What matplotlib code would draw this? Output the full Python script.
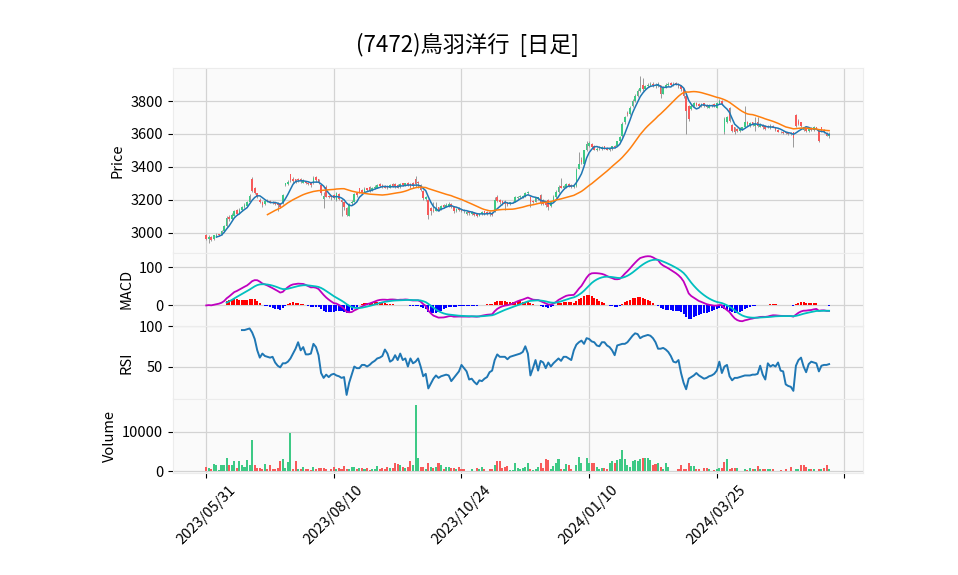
import numpy as np
import pandas as pd
import matplotlib
matplotlib.use("Agg")
import matplotlib.pyplot as plt

plt.rcParams['font.family'] = ['Noto Sans CJK JP', 'DejaVu Sans']

TITLE = "(7472)鳥羽洋行  [日足]"

# daily prices, 2023/05/31 .. 2024/05
opens = [
    2990, 2965, 2975, 2965, 2980, 2992, 2995, 3010, 3040, 3095,
    3085, 3105, 3140, 3120, 3140, 3155, 3165, 3190, 3330, 3270,
    3240, 3200, 3190, 3175, 3200, 3195, 3190, 3185, 3180, 3175,
    3180, 3290, 3295, 3355, 3330, 3325, 3330, 3330, 3305, 3310,
    3305, 3300, 3300, 3340, 3325, 3290, 3205, 3280, 3225, 3225,
    3230, 3200, 3235, 3200, 3185, 3150, 3105, 3180, 3190, 3240,
    3270, 3260, 3250, 3270, 3280, 3260, 3270, 3275, 3295, 3290,
    3285, 3285, 3275, 3295, 3295, 3290, 3280, 3300, 3290, 3305,
    3295, 3300, 3330, 3310, 3290, 3255, 3205, 3200, 3150, 3140,
    3135, 3155, 3145, 3170, 3160, 3165, 3175, 3160, 3130, 3150,
    3145, 3140, 3115, 3125, 3115, 3120, 3115, 3105, 3115, 3130,
    3125, 3125, 3115, 3130, 3215, 3200, 3195, 3190, 3185, 3175,
    3185, 3190, 3210, 3215, 3220, 3220, 3240, 3220, 3195, 3190,
    3205, 3230, 3200, 3190, 3200, 3165, 3190, 3215, 3250, 3285,
    3275, 3280, 3295, 3290, 3280, 3285, 3390, 3445, 3420, 3500,
    3525, 3540, 3530, 3500, 3520, 3510, 3525, 3515, 3500, 3510,
    3530, 3530, 3555, 3585, 3670, 3730, 3720, 3770, 3800, 3830,
    3860, 3900, 3875, 3890, 3895, 3905, 3900, 3890, 3895, 3845,
    3885, 3895, 3910, 3895, 3910, 3905, 3890, 3870, 3830, 3770,
    3750, 3770, 3790, 3780, 3770, 3785, 3775, 3760, 3770, 3780,
    3760, 3785, 3800, 3610, 3670, 3760, 3655, 3640, 3630, 3620,
    3630, 3640, 3675, 3650, 3670, 3650, 3675, 3645, 3655, 3650,
    3650, 3635, 3650, 3640, 3625, 3615, 3612, 3610, 3605, 3604,
    3610, 3715, 3680, 3670, 3625, 3635, 3620, 3635, 3625, 3640,
    3620, 3640, 3625, 3605, 3585,
]
highs = [
    2995, 2985, 2980, 2990, 3000, 2995, 3020, 3050, 3100, 3110,
    3120, 3140, 3145, 3150, 3165, 3180, 3195, 3235, 3340, 3280,
    3245, 3210, 3195, 3200, 3205, 3200, 3195, 3190, 3185, 3180,
    3235, 3305, 3320, 3360, 3340, 3330, 3335, 3335, 3325, 3315,
    3310, 3305, 3345, 3345, 3330, 3295, 3250, 3290, 3230, 3230,
    3235, 3250, 3240, 3205, 3190, 3160, 3180, 3200, 3240, 3245,
    3275, 3265, 3280, 3275, 3285, 3280, 3290, 3295, 3300, 3295,
    3290, 3290, 3295, 3300, 3300, 3295, 3300, 3305, 3305, 3310,
    3300, 3310, 3345, 3315, 3295, 3260, 3225, 3205, 3160, 3190,
    3190, 3160, 3170, 3175, 3180, 3185, 3180, 3165, 3150, 3155,
    3150, 3145, 3130, 3130, 3130, 3125, 3120, 3120, 3130, 3135,
    3130, 3130, 3125, 3215, 3230, 3205, 3200, 3200, 3190, 3190,
    3195, 3225, 3225, 3230, 3230, 3250, 3255, 3225, 3200, 3215,
    3220, 3235, 3205, 3195, 3205, 3195, 3230, 3260, 3290, 3335,
    3290, 3300, 3300, 3295, 3290, 3395, 3490, 3460, 3505, 3555,
    3555, 3545, 3535, 3520, 3525, 3525, 3530, 3520, 3515, 3530,
    3535, 3560, 3590, 3670, 3710, 3740, 3770, 3810, 3840, 3870,
    3950, 3940, 3900, 3910, 3915, 3915, 3910, 3915, 3900, 3890,
    3910, 3915, 3915, 3915, 3915, 3910, 3895, 3880, 3840, 3775,
    3780, 3795, 3795, 3785, 3790, 3790, 3780, 3780, 3780, 3790,
    3795, 3810, 3805, 3700, 3710, 3765, 3660, 3645, 3635, 3640,
    3645, 3770, 3680, 3670, 3675, 3700, 3700, 3665, 3660, 3655,
    3655, 3660, 3655, 3645, 3630, 3620, 3618, 3615, 3610, 3610,
    3615, 3720, 3690, 3675, 3645, 3640, 3635, 3640, 3650, 3645,
    3625, 3645, 3630, 3610, 3610,
]
lows = [
    2955, 2940, 2950, 2960, 2975, 2980, 2990, 3005, 3035, 3075,
    3080, 3100, 3110, 3115, 3135, 3150, 3160, 3185, 3250, 3235,
    3210, 3180, 3160, 3170, 3185, 3180, 3175, 3170, 3130, 3150,
    3175, 3285, 3290, 3310, 3305, 3300, 3310, 3305, 3300, 3295,
    3290, 3280, 3295, 3310, 3295, 3230, 3150, 3215, 3210, 3200,
    3205, 3195, 3200, 3100, 3140, 3100, 3100, 3170, 3185, 3220,
    3245, 3240, 3245, 3255, 3250, 3255, 3265, 3270, 3280, 3275,
    3270, 3265, 3270, 3280, 3275, 3270, 3275, 3285, 3285, 3285,
    3275, 3275, 3280, 3270, 3255, 3200, 3195, 3085, 3110, 3125,
    3130, 3130, 3140, 3150, 3155, 3160, 3150, 3120, 3125, 3130,
    3125, 3120, 3110, 3110, 3110, 3100, 3095, 3100, 3110, 3110,
    3110, 3105, 3100, 3125, 3185, 3175, 3170, 3140, 3165, 3170,
    3180, 3185, 3205, 3210, 3210, 3215, 3235, 3160, 3180, 3185,
    3200, 3170, 3170, 3160, 3140, 3160, 3185, 3210, 3245, 3270,
    3270, 3275, 3280, 3275, 3275, 3280, 3385, 3420, 3415, 3495,
    3520, 3515, 3500, 3495, 3505, 3505, 3510, 3500, 3495, 3505,
    3515, 3525, 3550, 3580, 3660, 3710, 3715, 3765, 3795, 3825,
    3855, 3860, 3870, 3885, 3890, 3885, 3880, 3885, 3820, 3840,
    3880, 3890, 3890, 3890, 3895, 3880, 3860, 3820, 3600, 3680,
    3745, 3765, 3770, 3765, 3765, 3765, 3760, 3755, 3765, 3765,
    3755, 3780, 3775, 3600, 3665, 3670, 3610, 3600, 3610, 3615,
    3625, 3635, 3650, 3645, 3650, 3620, 3640, 3640, 3630, 3625,
    3635, 3630, 3640, 3620, 3610, 3605, 3600, 3600, 3595, 3595,
    3520, 3645, 3655, 3645, 3620, 3615, 3615, 3620, 3620, 3630,
    3550, 3615, 3605, 3585, 3575,
]
closes = [
    2965, 2975, 2960, 2985, 2990, 2990, 3010, 3040, 3090, 3085,
    3110, 3130, 3115, 3140, 3155, 3170, 3185, 3225, 3255, 3240,
    3220, 3185, 3170, 3195, 3190, 3185, 3180, 3175, 3170, 3160,
    3230, 3300, 3310, 3320, 3315, 3310, 3320, 3315, 3320, 3300,
    3295, 3290, 3335, 3320, 3300, 3240, 3225, 3220, 3220, 3215,
    3210, 3240, 3205, 3190, 3160, 3110, 3175, 3190, 3235, 3230,
    3250, 3245, 3265, 3260, 3255, 3270, 3280, 3290, 3285, 3280,
    3275, 3270, 3290, 3285, 3280, 3275, 3295, 3290, 3300, 3290,
    3280, 3285, 3295, 3300, 3260, 3210, 3215, 3110, 3135, 3130,
    3150, 3140, 3165, 3160, 3170, 3175, 3160, 3130, 3145, 3140,
    3135, 3130, 3125, 3120, 3125, 3110, 3105, 3115, 3125, 3120,
    3118, 3112, 3108, 3200, 3195, 3185, 3180, 3175, 3170, 3185,
    3190, 3215, 3220, 3222, 3225, 3240, 3250, 3190, 3190, 3210,
    3215, 3180, 3175, 3170, 3160, 3190, 3220, 3250, 3280, 3275,
    3285, 3295, 3285, 3280, 3285, 3380, 3420, 3430, 3500, 3540,
    3545, 3520, 3505, 3510, 3515, 3520, 3515, 3505, 3510, 3525,
    3520, 3555, 3580, 3660, 3700, 3720, 3760, 3800, 3830, 3860,
    3880, 3870, 3890, 3900, 3905, 3895, 3890, 3905, 3840, 3880,
    3900, 3905, 3900, 3905, 3900, 3890, 3870, 3830, 3740, 3690,
    3770, 3785, 3775, 3770, 3780, 3770, 3765, 3770, 3775, 3770,
    3785, 3800, 3780, 3690, 3700, 3680, 3620, 3610, 3620, 3630,
    3640, 3670, 3660, 3665, 3655, 3660, 3650, 3655, 3640, 3630,
    3640, 3650, 3645, 3625, 3615, 3610, 3608, 3605, 3602, 3600,
    3575, 3650, 3660, 3650, 3640, 3620, 3630, 3625, 3640, 3635,
    3560, 3620, 3610, 3590, 3600,
]
volumes = [
    1100, 920, 500, 1760, 1500, 300, 1680, 1500, 3280, 1500,
    1500, 2500, 920, 2500, 1500, 1100, 2770, 1500, 8060, 1500,
    840, 920, 500, 1760, 500, 1500, 670, 500, 760, 2600,
    3020, 920, 2350, 9740, 500, 2520, 500, 500, 1180, 500,
    670, 250, 1180, 670, 840, 920, 840, 500, 200, 500,
    1100, 500, 920, 500, 1430, 500, 500, 1180, 1180, 500,
    840, 920, 500, 840, 250, 500, 500, 1340, 500, 840,
    500, 1180, 840, 840, 2020, 1760, 1680, 1180, 840, 1180,
    2600, 1500, 16900, 3280, 1180, 1180, 670, 2020, 1180, 760,
    1180, 2020, 1500, 500, 1100, 1180, 840, 920, 670, 1100,
    670, 670, 150, 150, 500, 200, 920, 670, 1180, 500,
    150, 500, 670, 1500, 2520, 2600, 920, 1180, 1340, 250,
    250, 2020, 920, 670, 920, 1100, 2020, 670, 250, 670,
    1100, 2020, 920, 3020, 2770, 500, 1340, 2020, 3020, 670,
    500, 1760, 1500, 500, 170, 1500, 3610, 2020, 170, 3280,
    2020, 2020, 2020, 1180, 500, 840, 920, 500, 2020, 2520,
    2020, 2860, 3020, 5540, 3020, 1500, 1100, 2520, 2770, 2600,
    3020, 3280, 3280, 3280, 2860, 1500, 1760, 2020, 1180, 670,
    2020, 1100, 170, 170, 170, 500, 1500, 500, 500, 2020,
    1430, 1430, 500, 500, 170, 920, 920, 500, 170, 250,
    500, 920, 920, 2270, 3020, 500, 760, 920, 920, 170,
    170, 500, 250, 920, 670, 500, 1430, 500, 670, 670,
    500, 500, 670, 170, 170, 420, 170, 500, 170, 1180,
    170, 670, 670, 1680, 1680, 1180, 670, 500, 500, 170,
    500, 500, 840, 1500, 670,
]
# RSI(14) as drawn, starting at the 15th session
rsi_values = [
    95, 95, 96, 97, 92, 84, 70, 61, 66, 63,
    62, 61, 62, 55, 51, 49, 54, 54, 56, 60,
    66, 72, 80, 70, 74, 65, 65, 66, 78, 74,
    64, 42, 36, 40, 37, 40, 41, 39, 38, 36,
    37, 15, 30, 40, 50, 48, 48, 52, 52, 50,
    52, 55, 57, 60, 61, 63, 71, 66, 56, 58,
    64, 58, 66, 58, 60, 50, 60, 54, 56, 60,
    50, 38, 41, 23, 29, 35, 39, 36, 38, 39,
    40, 39, 32, 36, 40, 44, 52, 48, 44, 34,
    35, 31, 28, 33, 32, 35, 37, 43, 45, 58,
    65, 62, 62, 62, 59, 62, 63, 64, 65, 66,
    68, 75, 66, 39, 48, 58, 45, 57, 55, 48,
    55, 50, 54, 57, 60, 57, 62, 62, 60, 58,
    70, 77, 80, 82, 78, 85, 84, 81, 80, 76,
    75, 80, 80, 76, 74, 70, 64, 76, 77, 78,
    78, 80, 84, 88, 91, 90, 85, 87, 88, 89,
    88, 85, 80, 72, 72, 73, 71, 68, 63, 56,
    55, 58, 42, 30, 22, 35, 37, 39, 42, 39,
    37, 35, 36, 38, 39, 41, 45, 56, 42, 50,
    52, 38, 33, 36, 36, 37, 38, 39, 39, 39,
    40, 40, 41, 51, 40, 34, 54, 50, 52, 50,
    55, 45, 44, 28, 26, 25, 20, 51, 58, 61,
    50, 43, 53, 56, 55, 54, 44, 51, 52, 52,
    53,
]

tick_labels = ["2023/05/31", "2023/08/10", "2023/10/24", "2024/01/10", "2024/03/25", ""]

UP = '#3dc985'
DOWN = '#f75a5a'
GRID = '#d3d3d3'

df = pd.DataFrame({'Open': opens, 'High': highs, 'Low': lows, 'Close': closes, 'Volume': volumes})
x = np.arange(len(df))

ma5 = df['Close'].rolling(5).mean()
ma25 = df['Close'].rolling(25).mean()
ema12 = df['Close'].ewm(span=12, adjust=False).mean()
ema26 = df['Close'].ewm(span=26, adjust=False).mean()
macd = ema12 - ema26
signal = macd.ewm(span=9, adjust=False).mean()
signal[:8] = np.nan
hist = macd - signal
rsi = pd.Series([np.nan] * 14 + rsi_values)

fig = plt.figure(figsize=(9.58, 5.75), dpi=100)
left, width = 0.1806, 0.7203
ax_p = fig.add_axes([left, 0.5605, width, 0.3212])
ax_m = fig.add_axes([left, 0.4330, width, 0.1275], sharex=ax_p)
ax_r = fig.add_axes([left, 0.3056, width, 0.1274], sharex=ax_p)
ax_v = fig.add_axes([left, 0.1774, width, 0.1282], sharex=ax_p)

for ax in (ax_p, ax_m, ax_r, ax_v):
    ax.set_facecolor('#fafafa')
    ax.grid(True, color=GRID, linewidth=0.9)
    ax.set_axisbelow(True)
    for s in ax.spines.values():
        s.set_color('#ececec')
    ax.tick_params(labelsize=10.5, length=3.5)

# candles
up = df['Close'] >= df['Open']
ccol = np.where(up, UP, DOWN)
ax_p.vlines(x, df['Low'], df['High'], color='#9a9a9a', linewidth=0.7, zorder=2)
body = (df['Close'] - df['Open']).abs().clip(lower=3)
ax_p.bar(x, body, bottom=df[['Open', 'Close']].min(axis=1), width=0.65,
         color=ccol, linewidth=0, zorder=3)
ax_p.plot(x, ma5, color='#1f77b4', linewidth=1.1, zorder=4)
ax_p.plot(x, ma25, color='#ff7f0e', linewidth=1.1, zorder=4)
ax_p.set_ylim(2880, 4000)
ax_p.set_yticks([3000, 3200, 3400, 3600, 3800])
ax_p.set_ylabel('Price', fontsize=10.5)

# MACD
ax_m.bar(x, hist, width=0.8, color=np.where(hist >= 0, 'r', 'b'), zorder=2)
ax_m.plot(x, macd, color='m', linewidth=1.3, zorder=3)
ax_m.plot(x, signal, color='c', linewidth=1.3, zorder=3)
ax_m.set_ylim(-54, 138)
ax_m.set_yticks([0, 100])
ax_m.set_ylabel('MACD', fontsize=10.5)

# RSI
ax_r.plot(x, rsi, color='#1f77b4', linewidth=1.4)
ax_r.set_ylim(9.6, 100)
ax_r.set_yticks([50, 100])
ax_r.set_ylabel('RSI', fontsize=10.5)

# volume, coloured by change from the previous close
prev = df['Close'].shift(1).fillna(df['Open'])
vcol = np.where(df['Close'] >= prev, UP, DOWN)
ax_v.bar(x, df['Volume'], width=0.8, color=vcol, linewidth=0)
ax_v.set_ylim(-430, 18320)
ax_v.set_yticks([0, 10000])
ax_v.set_ylabel('Volume', fontsize=10.5)

ax_v.set_xlim(-13, 257.3)
ax_v.set_xticks([0, 50, 100, 150, 200, 250])
ax_v.set_xticklabels(tick_labels, rotation=45, ha='center')
for ax in (ax_p, ax_m, ax_r):
    ax.tick_params(axis='x', bottom=False, labelbottom=False)

fig.text(468 / 958, 1 - 45 / 575, TITLE, ha='center', va='center', fontsize=16)

fig.savefig('out.png', dpi=100)
